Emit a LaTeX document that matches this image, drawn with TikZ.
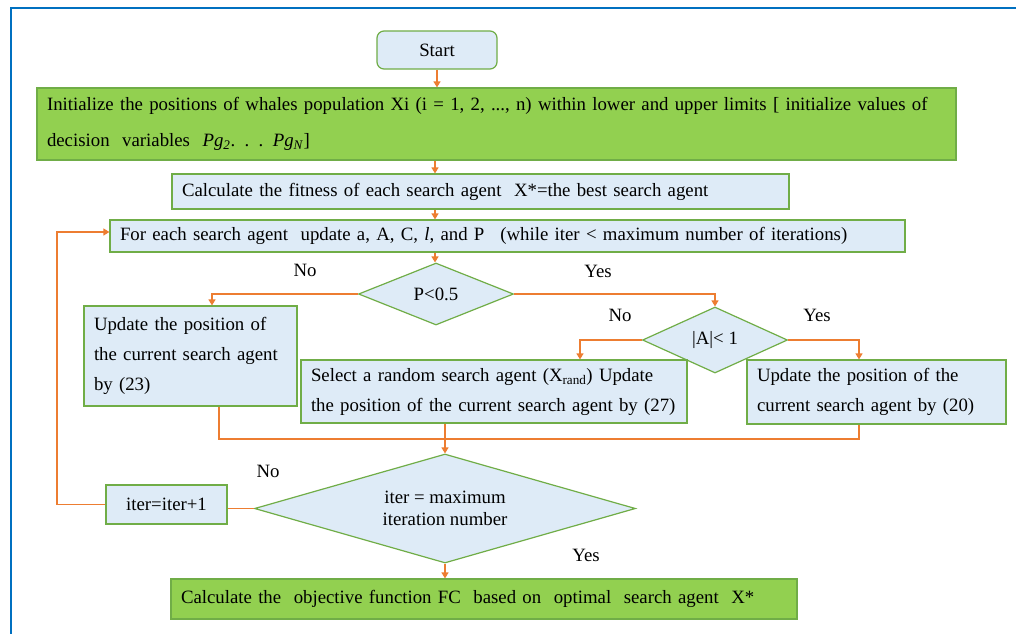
\documentclass[tikz,border=0pt]{standalone}
\usepackage{fontspec}
\setmainfont{Liberation Serif}
\usetikzlibrary{shapes.geometric,arrows.meta,calc}
\definecolor{frameblue}{HTML}{0070C0}
\definecolor{boxfill}{HTML}{DEEBF7}
\definecolor{boxline}{HTML}{70AD47}
\definecolor{greenfill}{HTML}{92D050}
\definecolor{conn}{HTML}{ED7D31}
\tikzset{
  txt/.style={font=\fontsize{18.8}{30}\selectfont},
  bluebox/.style={draw=boxline, fill=boxfill, line width=1.2pt, rectangle, inner ysep=0pt, txt},
  greenbox/.style={draw=boxline, fill=greenfill, line width=1.2pt, rectangle, inner ysep=0pt, txt},
  decision/.style={draw=boxline, fill=boxfill, line width=1.2pt, diamond, inner sep=0pt, txt, align=center},
  conn/.style={draw=conn, line width=1.3pt},
  arr/.style={conn, -{Triangle[width=7pt,length=6pt]}},
  lbl/.style={txt, inner sep=0pt}
}
\begin{document}
\begin{tikzpicture}[x=1pt,y=-1pt]
\path[fill=white] (0,0) rectangle (1016,633);
\useasboundingbox (0,0) rectangle (1016,633);
\draw[frameblue, line width=2.4pt] (11,640) -- (11,8) -- (1025,8);

\node[bluebox, rounded corners=7pt, minimum width=120pt, minimum height=38pt, align=center] (start) at (437,50) {Start};
\node[greenbox, minimum width=919pt, minimum height=72pt, text width=899pt, inner xsep=10pt, align=left, font=\fontsize{18.8}{36}\selectfont] (init) at (496.5,124)
 {Initialize the positions of whales population Xi (i = 1, 2, ..., n) within lower and upper limits [ initialize values of\\ decision\ \ variables\ \ \textit{Pg}\textsubscript{\textit{2}}. . . \textit{Pg}\textsubscript{\textit{N}}]};
\node[bluebox, minimum width=617pt, minimum height=35pt, text width=597pt, inner xsep=10pt, align=left] (fit) at (480.5,191.5)
 {Calculate the fitness of each search agent\ \ X*=the best search agent};
\node[bluebox, minimum width=795pt, minimum height=32pt, text width=775pt, inner xsep=10pt, align=left] (for) at (507.5,236)
 {For each search agent\ \ update a, A, C, \textit{l}, and P\hspace{16pt}(while iter < maximum number of iterations)};
\node[decision, aspect=2.5, minimum width=155pt, minimum height=62pt] (P) at (436,294) {P<0.5};
\node[decision, aspect=2.2, minimum width=145pt, minimum height=66pt] (A) at (715,340) {|A|< 1};
\node[bluebox, minimum width=213pt, minimum height=100pt, text width=193pt, inner xsep=10pt, align=left] (upL) at (190.5,356)
 {Update the position of\\ the current search agent\\ by (23)};
\node[bluebox, minimum width=386pt, minimum height=63pt, text width=366pt, inner xsep=10pt, align=left] (upM) at (494,391.5)
 {Select a random search agent (X\textsubscript{rand}) Update\\ the position of the current search agent by (27)};
\node[bluebox, minimum width=259pt, minimum height=64pt, text width=239pt, inner xsep=10pt, align=left] (upR) at (876.5,392)
 {Update the position of the\\ current search agent by (20)};
\node[decision, aspect=3.5, minimum width=381pt, minimum height=109pt, font=\fontsize{18.8}{22}\selectfont] (it) at (445,508.5) {iter = maximum\\ iteration number};
\node[bluebox, minimum width=121pt, minimum height=39pt, align=center] (inc) at (166.5,504.5) {iter=iter+1};
\node[greenbox, minimum width=626pt, minimum height=40pt, text width=606pt, inner xsep=10pt, align=left] (fin) at (484,599)
 {Calculate the\ \ objective function FC\ \ based on\ \ optimal\ \ search agent\ \ X*};

\node[lbl] (no1) at (305,270) {No};
\node[lbl] (yes1) at (598,271) {Yes};
\node[lbl] (no2) at (620,315) {No};
\node[lbl] (yes2) at (817,315) {Yes};
\node[lbl] (no3) at (268,471) {No};
\node[lbl] (yes3) at (586,555) {Yes};

\coordinate (cx) at (435,0);
\coordinate (xl) at (212,0);
\coordinate (xm) at (580,0);
\coordinate (xr) at (859,0);
\coordinate (m) at (445,439);
\coordinate (lp) at (57,232);

\draw[arr] (start.south) -- (start.south |- init.north);
\draw[arr] (init.south -| cx) -- (fit.north -| cx);
\draw[arr] (fit.south -| cx) -- (for.north -| cx);
\draw[arr] (for.south -| cx) -- (P.north -| cx);
\draw[arr] (P.west) -| (upL.north -| xl);
\draw[arr] (P.east) -| (A.north);
\draw[arr] (A.west) -| (upM.north -| xm);
\draw[arr] (A.east) -| (upR.north -| xr);
\draw[conn] (upL.south -| 219,0) |- (m) -| (upR.south -| xr);
\draw[conn] (upM.south -| m) -- (m);
\draw[arr] (m) -- (it.north);
\draw[conn] (it.west) -- (it.west -| inc.east);
\draw[arr] (inc.west) -| (lp) -- (lp -| for.west);
\draw[arr] (it.south) -- (it.south |- fin.north);
\end{tikzpicture}
\end{document}
